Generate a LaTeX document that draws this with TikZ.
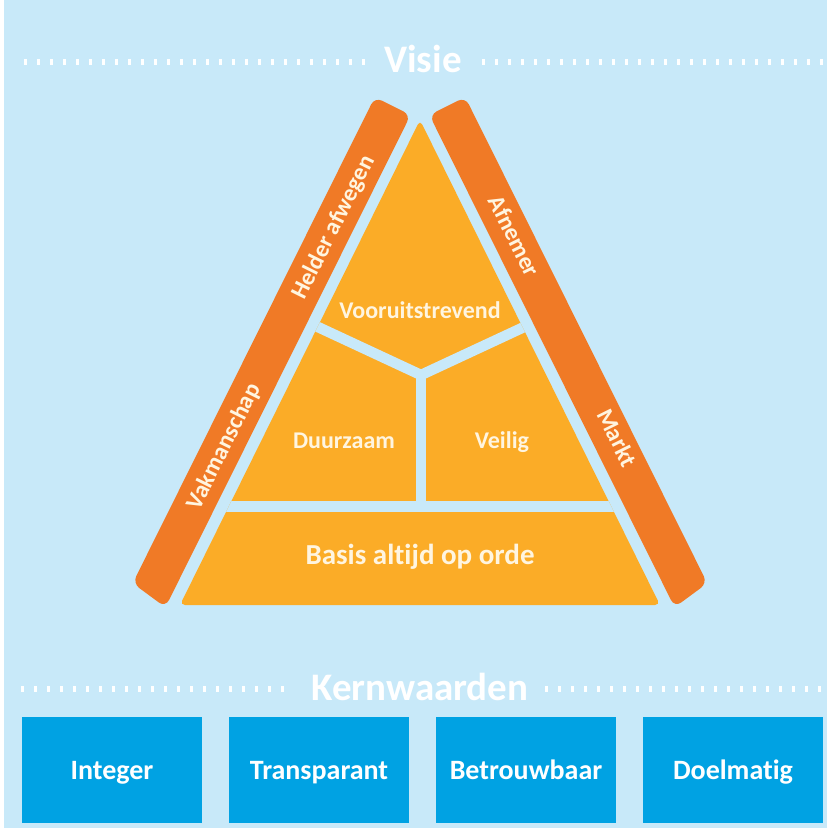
\documentclass[tikz,border=0pt]{standalone}
\usepackage{fontspec}
\setmainfont[Ligatures={NoCommon}]{Carlito}
\definecolor{bgblue}{HTML}{C8E9F9}
\definecolor{barorange}{HTML}{F07A26}
\definecolor{pyryellow}{HTML}{FBAC27}
\definecolor{boxblue}{HTML}{00A2E3}
\definecolor{cream}{HTML}{FFF5E0}
\begin{document}
\begin{tikzpicture}[x=1pt,y=-1pt,
  title/.style={font=\bfseries\fontsize{39}{40}\selectfont, text=white, inner sep=0pt,
    text height=25pt, text depth=0pt},
  dotline/.style={white, line width=6pt, dash pattern=on 3pt off 10pt},
  bar/.style={fill=barorange, rounded corners=8pt},
  gapline/.style={bgblue, line width=10.5pt},
  pyrlabel/.style={font=\bfseries\fontsize{24}{25}\selectfont, text=cream, inner sep=0pt,
    text height=15.5pt, text depth=0pt},
  baselabel/.style={font=\bfseries\fontsize{29}{30}\selectfont, text=cream, inner sep=0pt,
    text height=18.7pt, text depth=0pt},
  barlabel/.style={font=\bfseries\fontsize{24}{25}\selectfont, text=cream, inner sep=0pt,
    text height=15.5pt, text depth=0pt},
  valuebox/.style={fill=boxblue, minimum width=180pt, minimum height=106pt, inner sep=0pt,
    font=\bfseries\fontsize{28}{29}\selectfont, text=white, text height=18pt, text depth=0pt}
]
\useasboundingbox (0,0) rectangle (827,831);
\fill[white] (0,0) rectangle (827,831);
\fill[bgblue] (4,0) rectangle (827,828);

% Visie
\draw[dotline] (24,62) -- (366,62);
\draw[dotline] (482,62) -- (824,62);
\node[title] (visie) at (423,60) {Visie};

% bars
\fill[bar] (374.8,97.1) -- (410.6,115.0) -- (165.4,607.3) -- (132.7,583.2) -- cycle;
\fill[bar] (465.2,97.1) -- (429.4,115.0) -- (674.6,607.3) -- (707.3,583.2) -- cycle;

% pyramid
\fill[pyryellow, rounded corners=5pt] (420,120) -- (660,605) -- (180,605) -- cycle;
\begin{scope}
\clip[rounded corners=5pt] (420,120) -- (660,605) -- (180,605) -- cycle;
\draw[gapline] (290,314) -- (421,375) -- (552,314);
\draw[gapline] (421,375) -- (421,506);
\draw[gapline] (170,506.5) -- (670,506.5);
\end{scope}

\node[pyrlabel] (voor) at (420,311) {Vooruitstrevend};
\node[pyrlabel] (duur) at (344,441) {Duurzaam};
\node[pyrlabel] (veil) at (502,441) {Veilig};
\node[baselabel] (basis) at (420,555) {Basis altijd op orde};

\node[barlabel, rotate=63.5] (helder) at (333,227) {Helder afwegen};
\node[barlabel, rotate=63.5] (vak) at (223.3,446.2) {Vakmanschap};
\node[barlabel, rotate=-63.5] (afn) at (514,236) {Afnemer};
\node[barlabel, rotate=-63.5] (markt) at (617,438) {Markt};

% Kernwaarden
\draw[dotline] (21,689) -- (292,689);
\draw[dotline] (545,689) -- (824,689);
\node[title] (kern) at (420,688) {Kernwaarden};

\node[valuebox] (b1) at (112,770) {Integer};
\node[valuebox] (b2) at (319,770) {Transparant};
\node[valuebox] (b3) at (526,770) {Betrouwbaar};
\node[valuebox] (b4) at (733,770) {Doelmatig};
\end{tikzpicture}
\end{document}
